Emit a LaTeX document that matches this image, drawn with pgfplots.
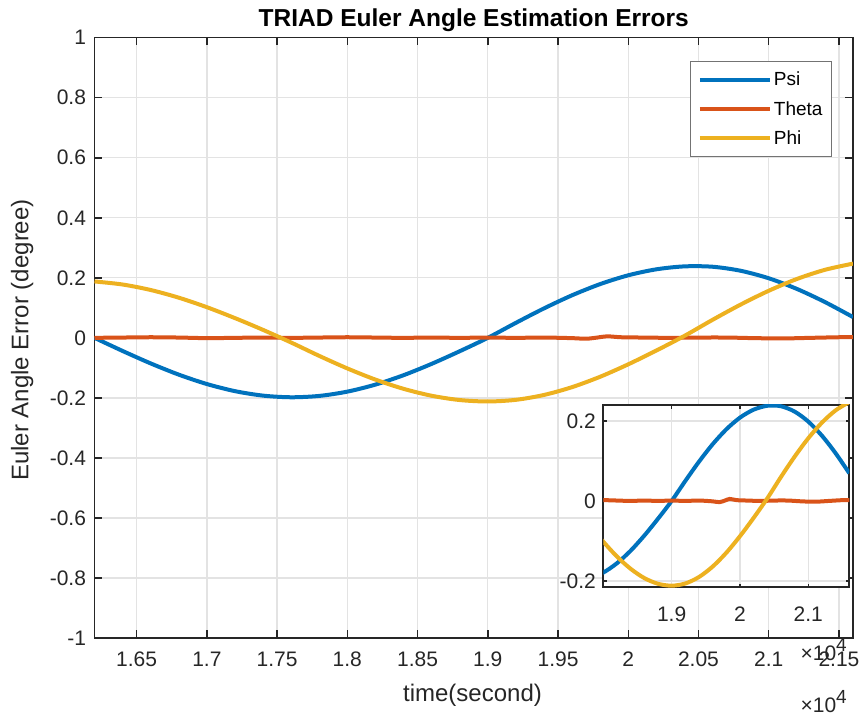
\documentclass[border=0pt]{standalone}
\usepackage{pgfplots}
\pgfplotsset{compat=1.18}
\usepackage{pgfplotstable}
\usepackage{fontspec}
\setmainfont{Liberation Sans}
\definecolor{cpsi}{rgb}{0,0.447,0.741}
\definecolor{ctheta}{rgb}{0.85,0.325,0.098}
\definecolor{cphi}{rgb}{0.929,0.694,0.125}
\definecolor{caxis}{gray}{0.15}
\definecolor{cgrid}{gray}{0.89}

\pgfplotstableread{
t v
16200 0
16400 -0.0437
16600 -0.0852
16800 -0.1226
17000 -0.1539
17200 -0.1776
17400 -0.1925
17600 -0.1980
17800 -0.1935
18000 -0.1792
18200 -0.1558
18400 -0.1245
18600 -0.0867
18800 -0.0446
19000 0.0000
19200 0.0500
19400 0.0981
19600 0.1418
19800 0.1791
20000 0.2084
20200 0.2283
20400 0.2381
20600 0.2369
20800 0.2235
21000 0.1985
21200 0.1631
21400 0.1193
21600 0.0692
}\psitab

\pgfplotstableread{
t v
16200 0.000
16400 0.001
16600 0.002
16800 0.001
17000 -0.001
17200 0.000
17400 0.001
17600 0.000
17800 0.001
18000 0.002
18200 0.001
18400 0.000
18600 0.001
18800 0.000
19000 0.001
19200 0.000
19400 0.001
19600 -0.001
19700 -0.003
19780 0.001
19850 0.005
19950 0.002
20100 0.001
20300 0.000
20500 0.001
20700 0.001
20900 -0.001
21100 -0.002
21300 0.000
21500 0.002
21600 0.002
}\thetatab

\pgfplotstableread{
t v
16200 0.1879
16400 0.1777
16600 0.1594
16800 0.1338
17000 0.1021
17200 0.0658
17400 0.0265
17600 -0.0156
17800 -0.0601
18000 -0.1019
18200 -0.1391
18400 -0.1698
18600 -0.1929
18800 -0.2072
19000 -0.2120
19200 -0.2065
19400 -0.1903
19600 -0.1642
19800 -0.1296
20000 -0.0882
20200 -0.0423
20400 0.0065
20600 0.0600
20800 0.1108
21000 0.1568
21200 0.1960
21400 0.2266
21600 0.2473
}\phitab

\begin{document}
\begin{tikzpicture}
\path[use as bounding box] (-94.5pt,-79pt) rectangle (768.5pt,638pt);
\begin{axis}[
  at={(0pt,0pt)}, anchor=south west, scale only axis,
  width=758.5pt, height=600.3pt,
  xmin=16200, xmax=21600, ymin=-1, ymax=1,
  xtick={16500,17000,17500,18000,18500,19000,19500,20000,20500,21000,21500},
  xticklabels={1.65,1.7,1.75,1.8,1.85,1.9,1.95,2,2.05,2.1,2.15},
  ytick={-1,-0.8,-0.6,-0.4,-0.2,0,0.2,0.4,0.6,0.8,1},
  yticklabels={-1,-0.8,-0.6,-0.4,-0.2,0,0.2,0.4,0.6,0.8,1},
  scaled x ticks=false, scaled y ticks=false,
  tick pos=both, tick align=inside, major tick length=7.7pt,
  tick style={caxis, line width=1.5pt},
  axis line style={caxis, line width=1.5pt},
  grid=major, major grid style={cgrid, line width=1.3pt},
  ticklabel style={font=\fontsize{21}{25}\selectfont, text=caxis},
  xticklabel style={anchor=base, yshift=-29pt},
  yticklabel style={anchor=east, xshift=-5pt},
  legend style={at={(0.9723,0.9617)}, anchor=north east, draw=black!55, line width=1pt,
    fill=white, font=\fontsize{19}{22}\selectfont, inner xsep=7pt, inner ysep=9pt,
    row sep=10pt, cells={anchor=west},
    /tikz/every even column/.append style={column sep=4pt}},
  legend image code/.code={\draw[#1, line width=4pt] (0pt,0pt) -- (70pt,0pt);},
]
\addplot[cpsi, line width=4pt, smooth] table[x=t,y=v] {\psitab};
\addlegendentry{Psi}
\addplot[ctheta, line width=4pt, smooth] table[x=t,y=v] {\thetatab};
\addlegendentry{Theta}
\addplot[cphi, line width=4pt, smooth] table[x=t,y=v] {\phitab};
\addlegendentry{Phi}
\end{axis}

\begin{axis}[
  at={(508.8pt,50.7pt)}, anchor=south west, scale only axis,
  width=246pt, height=182.3pt,
  xmin=18000, xmax=21600, ymin=-0.216, ymax=0.24,
  axis background/.style={fill=white},
  xtick={19000,20000,21000}, xticklabels={1.9,2,2.1},
  ytick={-0.2,0,0.2}, yticklabels={-0.2,0,0.2},
  scaled x ticks=false, scaled y ticks=false,
  tick pos=both, tick align=inside, major tick length=3.7pt,
  tick style={caxis, line width=1.5pt},
  axis line style={caxis, line width=2pt},
  grid=major, major grid style={cgrid, line width=1.3pt},
  ticklabel style={font=\fontsize{21}{25}\selectfont, text=caxis},
  xticklabel style={anchor=base, yshift=-34.7pt},
  yticklabel style={anchor=east, xshift=-4pt},
]
\addplot[cpsi, line width=4pt, smooth] table[x=t,y=v] {\psitab};
\addplot[ctheta, line width=4pt, smooth] table[x=t,y=v] {\thetatab};
\addplot[cphi, line width=4pt, smooth] table[x=t,y=v] {\phitab};
\end{axis}

\node[anchor=base, font=\bfseries\fontsize{24.5}{28}\selectfont, text=black] at (379.25pt,611.3pt) {TRIAD Euler Angle Estimation Errors};
\node[anchor=base, font=\fontsize{24}{28}\selectfont, text=caxis] at (378pt,-64pt) {time(second)};
\node[anchor=base, rotate=90, font=\fontsize{24}{28}\selectfont, text=caxis] at (-66pt,298pt) {Euler Angle Error (degree)};
\node[anchor=base east, inner sep=0pt, font=\fontsize{21}{25}\selectfont, text=caxis] at (752.5pt,-23pt) {×10\raisebox{9pt}{\fontsize{19}{22}\selectfont 4}};
\node[anchor=base east, inner sep=0pt, font=\fontsize{21}{25}\selectfont, text=caxis] at (752.5pt,-75pt) {×10\raisebox{9pt}{\fontsize{19}{22}\selectfont 4}};
\end{tikzpicture}
\end{document}
